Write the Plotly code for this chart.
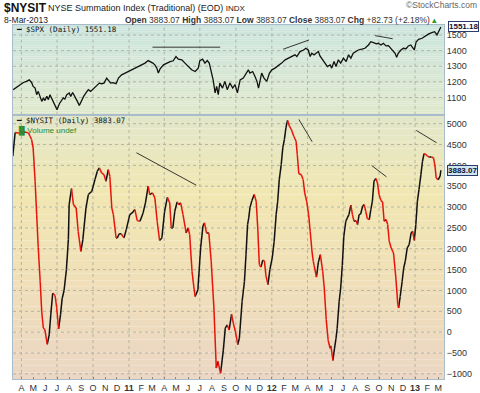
import plotly.graph_objects as go

# ---------------- data ----------------
spx_dates = [
    "2010-03-11", "2010-03-24", "2010-04-06", "2010-04-14", "2010-04-21", "2010-04-27", "2010-05-01", "2010-05-06",
    "2010-05-10", "2010-05-14", "2010-05-19", "2010-05-23", "2010-05-27", "2010-05-31", "2010-06-05", "2010-06-09",
    "2010-06-13", "2010-06-17", "2010-06-23", "2010-06-28", "2010-07-01", "2010-07-07", "2010-07-13", "2010-07-17",
    "2010-07-21", "2010-07-26", "2010-08-01", "2010-08-05", "2010-08-10", "2010-08-16", "2010-08-22", "2010-08-27",
    "2010-09-02", "2010-09-07", "2010-09-13", "2010-09-19", "2010-09-25", "2010-10-02", "2010-10-10", "2010-10-17",
    "2010-10-23", "2010-10-29", "2010-11-05", "2010-11-09", "2010-11-15", "2010-11-21", "2010-11-29", "2010-12-05",
    "2010-12-13", "2010-12-22", "2010-12-30", "2011-01-08", "2011-01-16", "2011-01-25", "2011-02-02", "2011-02-11",
    "2011-02-19", "2011-02-24", "2011-03-03", "2011-03-08", "2011-03-13", "2011-03-17", "2011-03-21", "2011-03-30",
    "2011-04-07", "2011-04-16", "2011-04-24", "2011-05-01", "2011-05-07", "2011-05-16", "2011-05-24", "2011-06-02",
    "2011-06-10", "2011-06-19", "2011-06-27", "2011-07-01", "2011-07-08", "2011-07-14", "2011-07-20", "2011-07-25",
    "2011-07-31", "2011-08-04", "2011-08-09", "2011-08-13", "2011-08-17", "2011-08-21", "2011-08-28", "2011-09-03",
    "2011-09-09", "2011-09-16", "2011-09-23", "2011-09-29", "2011-10-05", "2011-10-12", "2011-10-20", "2011-10-27",
    "2011-11-02", "2011-11-06", "2011-11-13", "2011-11-19", "2011-11-24", "2011-11-28", "2011-12-02", "2011-12-06",
    "2011-12-12", "2011-12-19", "2011-12-26", "2012-01-01", "2012-01-09", "2012-01-18", "2012-01-26", "2012-02-04",
    "2012-02-12", "2012-02-21", "2012-02-29", "2012-03-05", "2012-03-13", "2012-03-22", "2012-03-28", "2012-04-03",
    "2012-04-08", "2012-04-12", "2012-04-18", "2012-04-23", "2012-04-29", "2012-05-03", "2012-05-10", "2012-05-16",
    "2012-05-22", "2012-05-29", "2012-06-02", "2012-06-08", "2012-06-13", "2012-06-19", "2012-06-25", "2012-07-02",
    "2012-07-09", "2012-07-15", "2012-07-21", "2012-07-27", "2012-08-03", "2012-08-09", "2012-08-18", "2012-08-26",
    "2012-09-04", "2012-09-10", "2012-09-17", "2012-09-24", "2012-09-29", "2012-10-06", "2012-10-12", "2012-10-19",
    "2012-10-25", "2012-10-31", "2012-11-05", "2012-11-11", "2012-11-15", "2012-11-19", "2012-11-26", "2012-12-02",
    "2012-12-09", "2012-12-15", "2012-12-21", "2012-12-26", "2012-12-30", "2013-01-04", "2013-01-10", "2013-01-19",
    "2013-01-27", "2013-02-05", "2013-02-13", "2013-02-20", "2013-02-26", "2013-03-04", "2013-03-08",
]
spx_values = [
    1150, 1171, 1196, 1203, 1213, 1196, 1171, 1160,
    1118, 1139, 1097, 1075, 1097, 1080, 1107, 1086,
    1118, 1097, 1075, 1048, 1022, 1060, 1086, 1097,
    1090, 1118, 1129, 1107, 1132, 1107, 1075, 1048,
    1086, 1107, 1129, 1150, 1139, 1154, 1171, 1192,
    1188, 1192, 1224, 1213, 1192, 1195, 1188, 1224,
    1245, 1256, 1266, 1277, 1288, 1298, 1309, 1320,
    1336, 1330, 1320, 1309, 1288, 1256, 1281, 1309,
    1320, 1330, 1335, 1362, 1345, 1341, 1320, 1298,
    1277, 1266, 1288, 1336, 1345, 1320, 1336, 1320,
    1266, 1213, 1129, 1171, 1118, 1192, 1160, 1203,
    1150, 1192, 1160, 1182, 1129, 1213, 1224, 1256,
    1277, 1256, 1266, 1234, 1203, 1160, 1213, 1256,
    1224, 1203, 1256, 1277, 1288, 1302, 1320, 1341,
    1352, 1362, 1373, 1362, 1394, 1404, 1415, 1404,
    1362, 1383, 1373, 1383, 1394, 1366, 1341, 1320,
    1298, 1309, 1288, 1330, 1298, 1341, 1320, 1352,
    1330, 1373, 1352, 1383, 1394, 1404, 1409, 1415,
    1436, 1457, 1451, 1443, 1447, 1436, 1447, 1430,
    1432, 1415, 1404, 1383, 1358, 1383, 1404, 1415,
    1412, 1430, 1436, 1415, 1404, 1457, 1472, 1479,
    1494, 1507, 1515, 1521, 1500, 1532, 1551.18,
]

nysit_dates = [
    "2010-03-10", "2010-03-16", "2010-03-28", "2010-04-10", "2010-04-19", "2010-04-23", "2010-04-27", "2010-05-01",
    "2010-05-06", "2010-05-10", "2010-05-14", "2010-05-19", "2010-05-23", "2010-05-27", "2010-05-31", "2010-06-06",
    "2010-06-11", "2010-06-15", "2010-06-20", "2010-06-26", "2010-06-30", "2010-07-05", "2010-07-10", "2010-07-14",
    "2010-07-19", "2010-07-25", "2010-07-30", "2010-08-01", "2010-08-07", "2010-08-12", "2010-08-19", "2010-08-24",
    "2010-08-31", "2010-09-05", "2010-09-13", "2010-09-19", "2010-09-28", "2010-10-06", "2010-10-12", "2010-10-17",
    "2010-10-23", "2010-10-29", "2010-11-03", "2010-11-09", "2010-11-13", "2010-11-18", "2010-11-22", "2010-11-29",
    "2010-12-02", "2010-12-07", "2010-12-12", "2010-12-19", "2010-12-25", "2011-01-03", "2011-01-09", "2011-01-16",
    "2011-01-22", "2011-01-29", "2011-02-06", "2011-02-12", "2011-02-19", "2011-02-23", "2011-03-02", "2011-03-08",
    "2011-03-14", "2011-03-20", "2011-03-26", "2011-04-02", "2011-04-09", "2011-04-15", "2011-04-19", "2011-04-23",
    "2011-04-28", "2011-05-04", "2011-05-08", "2011-05-13", "2011-05-19", "2011-05-27", "2011-06-01", "2011-06-05",
    "2011-06-11", "2011-06-16", "2011-06-19", "2011-06-26", "2011-07-03", "2011-07-09", "2011-07-13", "2011-07-18",
    "2011-07-24", "2011-07-30", "2011-08-06", "2011-08-12", "2011-08-16", "2011-08-23", "2011-08-30", "2011-09-04",
    "2011-09-09", "2011-09-14", "2011-09-20", "2011-09-25", "2011-09-30", "2011-10-06", "2011-10-10", "2011-10-17",
    "2011-10-23", "2011-10-27", "2011-10-31", "2011-11-03", "2011-11-06", "2011-11-11", "2011-11-17", "2011-11-22",
    "2011-11-26", "2011-11-30", "2011-12-04", "2011-12-09", "2011-12-13", "2011-12-17", "2011-12-22", "2011-12-27",
    "2012-01-02", "2012-01-07", "2012-01-12", "2012-01-16", "2012-01-20", "2012-01-25", "2012-01-29", "2012-02-02",
    "2012-02-06", "2012-02-10", "2012-02-15", "2012-02-20", "2012-02-26", "2012-03-03", "2012-03-06", "2012-03-10",
    "2012-03-16", "2012-03-21", "2012-03-25", "2012-03-30", "2012-04-04", "2012-04-08", "2012-04-13", "2012-04-16",
    "2012-04-18", "2012-04-24", "2012-04-29", "2012-05-04", "2012-05-10", "2012-05-14", "2012-05-19", "2012-05-24",
    "2012-05-29", "2012-05-31", "2012-06-05", "2012-06-09", "2012-06-13", "2012-06-16", "2012-06-21", "2012-06-25",
    "2012-06-29", "2012-07-03", "2012-07-08", "2012-07-12", "2012-07-16", "2012-07-21", "2012-07-25", "2012-07-29",
    "2012-08-03", "2012-08-07", "2012-08-11", "2012-08-15", "2012-08-20", "2012-08-24", "2012-08-28", "2012-09-01",
    "2012-09-06", "2012-09-10", "2012-09-14", "2012-09-18", "2012-09-23", "2012-09-27", "2012-10-01", "2012-10-06",
    "2012-10-10", "2012-10-14", "2012-10-19", "2012-10-23", "2012-10-27", "2012-11-01", "2012-11-07", "2012-11-13",
    "2012-11-18", "2012-11-20", "2012-11-24", "2012-11-29", "2012-12-03", "2012-12-07", "2012-12-12", "2012-12-17",
    "2012-12-22", "2012-12-26", "2012-12-30", "2013-01-03", "2013-01-07", "2013-01-11", "2013-01-16", "2013-01-20",
    "2013-01-24", "2013-01-29", "2013-02-02", "2013-02-06", "2013-02-12", "2013-02-17", "2013-02-21", "2013-02-24",
    "2013-03-01", "2013-03-06", "2013-03-08",
]
nysit_values = [
    4220, 4790, 4770, 4800, 4780, 4700, 4620, 4420,
    3620, 2820, 2030, 1215, 480, 100, 60, -290,
    -65, 415, 940, 880, 600, 80, 420, 800,
    1000, 1500, 2220, 3060, 3445, 3060, 2980, 2420,
    1940, 2220, 2980, 3300, 3380, 3660, 3860, 3940,
    3820, 3780, 3620, 3900, 3740, 2980, 2820, 2260,
    2260, 2360, 2360, 2260, 2460, 2820, 2860, 2940,
    2675, 2660, 2860, 3100, 3500, 3300, 3340, 3220,
    2660, 2200, 2260, 2900, 3235, 3100, 2500, 2500,
    2900, 3125, 3060, 3100, 2820, 2380, 2500, 2340,
    1460, 1060, 855, 1015, 2020, 2550, 2620, 2380,
    2380, 1700, 580, -860, -700, -985, -430, 96,
    175, 55, 430, 200, 10, -300, -145, 735,
    1215, 1860, 2580, 2740, 2980, 3155, 3300, 3140,
    2500, 1620, 1560, 1730, 1710, 1350, 1140, 1500,
    1780, 2180, 2820, 3140, 3660, 4020, 4420, 4620,
    4900, 5080, 4940, 4860, 4700, 4580, 4260, 3800,
    3780, 3660, 3340, 3140, 2820, 2420, 1900, 1700,
    1600, 1320, 1680, 1860, 1460, 1060, 300, -200,
    -385, -330, -680, -400, -150, 95, 735, 1060,
    1600, 2300, 2660, 2740, 2820, 3045, 2820, 2660,
    2675, 2580, 2820, 2835, 3020, 3060, 2900, 2725,
    2700, 2940, 3140, 3620, 3685, 3580, 3300, 3155,
    3125, 2660, 2700, 2580, 2180, 2020, 1900, 1300,
    660, 580, 855, 1215, 1540, 1700, 2020, 2100,
    2380, 2420, 2200, 2580, 3140, 3420, 3780, 4100,
    4280, 4260, 4220, 4200, 4200, 4185, 3985, 3700,
    3655, 3740, 3883.07,
]

month_ticks = [
    "2010-04-01", "2010-05-01", "2010-06-01", "2010-07-01", "2010-08-01", "2010-09-01", "2010-10-01", "2010-11-01",
    "2010-12-01", "2011-01-01", "2011-02-01", "2011-03-01", "2011-04-01", "2011-05-01", "2011-06-01", "2011-07-01",
    "2011-08-01", "2011-09-01", "2011-10-01", "2011-11-01", "2011-12-01", "2012-01-01", "2012-02-01", "2012-03-01",
    "2012-04-01", "2012-05-01", "2012-06-01", "2012-07-01", "2012-08-01", "2012-09-01", "2012-10-01", "2012-11-01",
    "2012-12-01", "2013-01-01", "2013-02-01", "2013-03-01",
]
month_labels = [
    "A", "M", "J", "J", "A", "S", "O", "N", "D", "<b>11</b>", "F", "M", "A", "M", "J", "J", "A", "S", "O", "N", "D",
    "<b>12</b>", "F", "M", "A", "M", "J", "J", "A", "S", "O", "N", "D", "<b>13</b>", "F", "M",
]
quarter_grid = [
    "2010-04-01", "2010-07-01", "2010-10-01", "2011-01-01", "2011-04-01", "2011-07-01", "2011-10-01",
    "2012-01-01", "2012-04-01", "2012-07-01", "2012-10-01", "2013-01-01",
]
spx_ticks = [1100, 1200, 1300, 1400, 1500]
nysit_ticks = [-1000, -500, 0, 500, 1000, 1500, 2000, 2500, 3000, 3500, 4000, 4500, 5000]

spx_trend_start = [("2011-03-02", 1422), ("2012-01-30", 1409), ("2012-09-21", 1496)]
spx_trend_end = [("2011-08-22", 1422), ("2012-04-05", 1468), ("2012-11-05", 1476)]
nysit_trend_start = [("2011-01-20", 4303), ("2012-03-10", 5103), ("2012-09-12", 3998), ("2013-01-04", 4839)]
nysit_trend_end = [("2011-06-22", 3524), ("2012-04-13", 4567), ("2012-10-20", 3726), ("2013-02-25", 4543)]

x_range = ["2010-03-10 12:00", "2013-03-16"]
spx_range = [990, 1564]
nysit_range = [-1123, 5200]

# ---------------- figure ----------------
W, H = 480, 393
ML, MR, MT, MB = 13, 36, 25, 14
split = (H - MB - 115) / (H - MT - MB)
GRID = "#b3b5a3"

fig = go.Figure()

fig.add_trace(go.Scatter(x=spx_dates, y=spx_values, mode="lines",
                         line=dict(color="#111111", width=1.3), xaxis="x", yaxis="y",
                         showlegend=False, hoverinfo="skip"))

ux, uy, dx, dy = [], [], [], []
for i in range(len(nysit_values) - 1):
    if nysit_values[i + 1] >= nysit_values[i]:
        tx, ty = ux, uy
    else:
        tx, ty = dx, dy
    tx += [nysit_dates[i], nysit_dates[i + 1], None]
    ty += [nysit_values[i], nysit_values[i + 1], None]
fig.add_trace(go.Scatter(x=ux, y=uy, mode="lines", line=dict(color="#111111", width=1.5),
                         xaxis="x2", yaxis="y2", showlegend=False, hoverinfo="skip", connectgaps=False))
fig.add_trace(go.Scatter(x=dx, y=dy, mode="lines", line=dict(color="#e8140c", width=1.5),
                         xaxis="x2", yaxis="y2", showlegend=False, hoverinfo="skip", connectgaps=False))

shapes = []


def lerp(c1, c2, t):
    return tuple(round(a + (b - a) * t) for a, b in zip(c1, c2))


def gradient(xref, yref, stops, n=40):
    for k in range(n):
        t = (k + 0.5) / n  # 0 at top
        c = stops[-1][1]
        for j in range(len(stops) - 1):
            if stops[j][0] <= t <= stops[j + 1][0]:
                tt = (t - stops[j][0]) / (stops[j + 1][0] - stops[j][0])
                c = lerp(stops[j][1], stops[j + 1][1], tt)
                break
        shapes.append(dict(type="rect", xref=xref, yref=yref, x0=0, x1=1, y0=1 - k / n, y1=1 - (k + 1) / n,
                           fillcolor="rgb(%d,%d,%d)" % c, line=dict(width=0), layer="below"))


gradient("x domain", "y domain", [(0, (203, 229, 222)), (1, (224, 232, 204))])
gradient("x2 domain", "y2 domain",
         [(0, (226, 231, 202)), (0.3, (241, 231, 178)), (0.6, (240, 224, 184)), (1, (236, 214, 196))])

# horizontal gridlines (drawn as shapes so they sit above the gradient)
for v in spx_ticks:
    shapes.append(dict(type="line", xref="x domain", yref="y", x0=0, x1=1, y0=v, y1=v,
                       line=dict(color=GRID, width=1, dash="dot"), layer="below"))
for v in nysit_ticks:
    shapes.append(dict(type="line", xref="x2 domain", yref="y2", x0=0, x1=1, y0=v, y1=v,
                       line=dict(color=GRID, width=1, dash="dot"), layer="below"))
for q in quarter_grid:
    for xr, yr in (("x", "y domain"), ("x2", "y2 domain")):
        shapes.append(dict(type="line", xref=xr, yref=yr, x0=q, x1=q, y0=0, y1=1,
                           line=dict(color=GRID, width=1, dash="dot"), layer="below"))

for (d0, v0), (d1, v1) in zip(spx_trend_start, spx_trend_end):
    shapes.append(dict(type="line", xref="x", yref="y", x0=d0, y0=v0, x1=d1, y1=v1,
                       line=dict(color="#222222", width=0.9)))
for (d0, v0), (d1, v1) in zip(nysit_trend_start, nysit_trend_end):
    shapes.append(dict(type="line", xref="x2", yref="y2", x0=d0, y0=v0, x1=d1, y1=v1,
                       line=dict(color="#222222", width=0.9)))

axis_line = "#a9bccb"
fig.update_layout(
    width=W, height=H, autosize=False,
    margin=dict(l=ML, r=MR, t=MT, b=MB, pad=0, autoexpand=False),
    paper_bgcolor="white", plot_bgcolor="white",
    font=dict(family="Liberation Sans, Arial, sans-serif", size=9, color="#333333"),
    shapes=shapes,
    xaxis=dict(domain=[0, 1], anchor="y", type="date", range=x_range, showticklabels=False,
               showgrid=False, zeroline=False, showline=True, mirror=True, linecolor=axis_line,
               ticks="", matches="x2", automargin=False),
    yaxis=dict(domain=[split + 0.001, 1], anchor="x", side="right", range=spx_range,
               tickvals=spx_ticks, showgrid=False, automargin=False,
               zeroline=False, showline=True, mirror=True, linecolor=axis_line, ticks="",
               tickfont=dict(size=9, color="#333333")),
    xaxis2=dict(domain=[0, 1], anchor="y2", type="date", range=x_range, tickvals=month_ticks,
                ticktext=month_labels, showgrid=False, zeroline=False, showline=True, mirror=True,
                linecolor=axis_line, ticks="inside", ticklen=2, tickcolor="#888888", automargin=False,
                tickfont=dict(size=9, color="#333333")),
    yaxis2=dict(domain=[0, split - 0.001], anchor="x2", side="right", range=nysit_range,
                tickvals=nysit_ticks, showgrid=False, automargin=False,
                zeroline=False, showline=True, mirror=True, linecolor=axis_line, ticks="",
                tickfont=dict(size=9, color="#333333")),
)


def px_x(p):
    return (p - ML) / (W - ML - MR)


def px_y(p):
    return 1 - (p - MT) / (H - MT - MB)


ann = []
ann.append(dict(xref="paper", yref="paper", x=px_x(2), y=px_y(8), xanchor="left", yanchor="middle",
                text="<b>$NYSIT</b>", font=dict(size=12, color="#111111"), showarrow=False))
ann.append(dict(xref="paper", yref="paper", x=px_x(46), y=px_y(8.5), xanchor="left", yanchor="middle",
                text="NYSE Summation Index (Traditional) (EOD) <span style='font-size:8px'>INDX</span>",
                font=dict(size=9, color="#222222"), showarrow=False))
ann.append(dict(xref="paper", yref="paper", x=px_x(479), y=px_y(5), xanchor="right", yanchor="middle",
                text="©StockCharts.com", font=dict(size=8.5, color="#666666"), showarrow=False))
ann.append(dict(xref="paper", yref="paper", x=px_x(2), y=px_y(20), xanchor="left", yanchor="middle",
                text="8-Mar-2013", font=dict(size=8.5, color="#222222"), showarrow=False))
ann.append(dict(xref="paper", yref="paper", x=px_x(123), y=px_y(20), xanchor="left", yanchor="middle",
                text="<b>Open</b> 3883.07 <b>High</b> 3883.07 <b>Low</b> 3883.07 <b>Close</b> 3883.07 "
                     "<b>Chg</b> +82.73 (+2.18%) <span style='color:#2a9a2a'>▴</span>",
                font=dict(size=8.5, color="#333333"), showarrow=False))
ann.append(dict(xref="paper", yref="paper", x=px_x(14), y=px_y(29), xanchor="left", yanchor="middle",
                text="━ $SPX (Daily) 1551.18", font=dict(family="DejaVu Sans Mono, monospace", size=7.5,
                                                        color="#111111"), showarrow=False))
ann.append(dict(xref="paper", yref="paper", x=px_x(14), y=px_y(121), xanchor="left", yanchor="middle",
                text="━ $NYSIT (Daily) 3883.07", font=dict(family="DejaVu Sans Mono, monospace", size=7.5,
                                                          color="#111111"), showarrow=False))
ann.append(dict(xref="paper", yref="paper", x=px_x(14), y=px_y(130), xanchor="left", yanchor="middle",
                text="<b>▐▌</b>Volume undef", font=dict(size=8, color="#2e8b2e"), showarrow=False))
ann.append(dict(xref="paper", yref="y", x=px_x(479), y=spx_values[-1], yshift=1, xanchor="right",
                yanchor="middle", text="<b>1551.18</b>", font=dict(size=8, color="#111133"), showarrow=False,
                bgcolor="white", bordercolor="#2b3b6b", borderwidth=1, borderpad=0))
ann.append(dict(xref="paper", yref="y2", x=px_x(478), y=nysit_values[-1], xanchor="right", yanchor="middle",
                text="<b>3883.07</b>", font=dict(size=8, color="#111133"), showarrow=False,
                bgcolor="#cfe6f0", bordercolor="#2b3b6b", borderwidth=1, borderpad=0))
fig.update_layout(annotations=ann)

fig.write_html("out.html",
               config={"displayModeBar": False, "responsive": False},
               post_script="document.body.style.margin='0px';document.body.style.padding='0px';"
                           "document.body.style.overflow='hidden';")
